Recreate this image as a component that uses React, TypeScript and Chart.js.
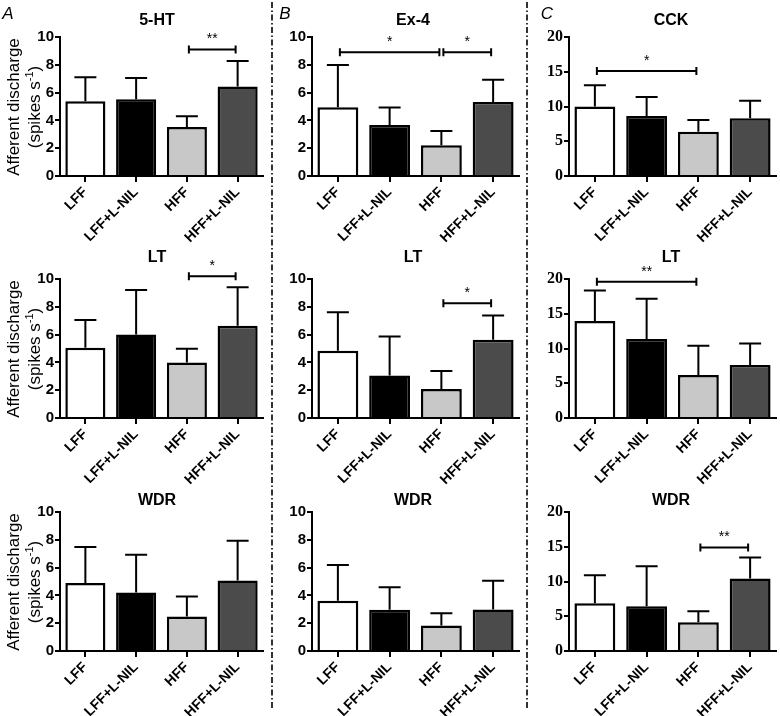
import React, { useEffect, useRef } from 'react';
import { Chart, registerables } from 'chart.js';

Chart.register(...registerables);

// ---------- data ----------
const categories = ['LFF', 'LFF+L-NIL', 'HFF', 'HFF+L-NIL'];

// Column A (5-HT / LT / WDR)
const a5htMean = [5.37, 5.52, 3.53, 6.43];
const a5htSem = [1.73, 1.53, 0.76, 1.84];
const aLtMean = [5.06, 6.0, 4.0, 6.64];
const aLtSem = [1.99, 3.21, 0.99, 2.76];
const aWdrMean = [4.9, 4.21, 2.48, 5.07];
const aWdrSem = [2.58, 2.71, 1.44, 2.86];

// Column B (Ex-4 / LT / WDR)
const bEx4Mean = [4.94, 3.67, 2.21, 5.32];
const bEx4Sem = [3.05, 1.25, 1.03, 1.61];
const bLtMean = [4.83, 3.05, 2.09, 5.63];
const bLtSem = [2.77, 2.82, 1.3, 1.75];
const bWdrMean = [3.61, 2.96, 1.83, 2.98];
const bWdrSem = [2.57, 1.63, 0.89, 2.07];

// Column C (CCK / LT / WDR)
const cCckMean = [10.0, 8.65, 6.38, 8.31];
const cCckSem = [3.04, 2.7, 1.69, 2.51];
const cLtMean = [13.96, 11.35, 6.18, 7.63];
const cLtSem = [4.4, 5.8, 4.21, 3.09];
const cWdrMean = [6.88, 6.44, 4.13, 10.43];
const cWdrSem = [4.03, 5.77, 1.59, 3.03];

// significance brackets: [fromIndex, toIndex, yValue, label]
type Sig = [number, number, number, string];
const a5htSig: Sig[] = [[2, 3, 9.1, '**']];
const aLtSig: Sig[] = [[2, 3, 10.2, '*']];
const aWdrSig: Sig[] = [];
const bEx4Sig: Sig[] = [[0, 2, 8.9, '*'], [2, 3, 8.9, '*']];
const bLtSig: Sig[] = [[2, 3, 8.25, '*']];
const bWdrSig: Sig[] = [];
const cCckSig: Sig[] = [[0, 2, 15.1, '*']];
const cLtSig: Sig[] = [[0, 2, 19.6, '**']];
const cWdrSig: Sig[] = [[2, 3, 14.9, '**']];

const panelTitles = ['5-HT', 'Ex-4', 'CCK', 'LT', 'LT', 'LT', 'WDR', 'WDR', 'WDR'];
const yMaxA = 10;
const yMaxC = 20;

// ---------- styles / layout ----------
const barColors = ['#ffffff', '#000000', '#c8c8c8', '#4b4b4b'];
const colLayout = [
  { axisX: 60, right: 263, titleX: 157, letter: 'A', letterX: 8 },
  { axisX: 312, right: 519, titleX: 413, letter: 'B', letterX: 285 },
  { axisX: 569, right: 776, titleX: 671, letter: 'C', letterX: 547 },
];
const rowLayout = [
  { top: 37, bottom: 176, titleY: 19.5 },
  { top: 279, bottom: 418, titleY: 257 },
  { top: 512, bottom: 651, titleY: 500 },
];

type PanelSpec = { mean: number[]; sem: number[]; sig: Sig[]; max: number; serif: boolean };

const panels: PanelSpec[] = [
  { mean: a5htMean, sem: a5htSem, sig: a5htSig, max: yMaxA, serif: false },
  { mean: bEx4Mean, sem: bEx4Sem, sig: bEx4Sig, max: yMaxA, serif: false },
  { mean: cCckMean, sem: cCckSem, sig: cCckSig, max: yMaxC, serif: true },
  { mean: aLtMean, sem: aLtSem, sig: aLtSig, max: yMaxA, serif: false },
  { mean: bLtMean, sem: bLtSem, sig: bLtSig, max: yMaxA, serif: false },
  { mean: cLtMean, sem: cLtSem, sig: cLtSig, max: yMaxC, serif: true },
  { mean: aWdrMean, sem: aWdrSem, sig: aWdrSig, max: yMaxA, serif: false },
  { mean: bWdrMean, sem: bWdrSem, sig: bWdrSig, max: yMaxA, serif: false },
  { mean: cWdrMean, sem: cWdrSem, sig: cWdrSig, max: yMaxC, serif: true },
];

const SANS = '"Liberation Sans", Arial, sans-serif';
const SERIF = '"Liberation Serif", "Times New Roman", serif';

const PAD_TOP = 40;
const Y_W = 46;
const X_H = 85;
const PAD_R = 4;

function Panel({ spec, col, row }: { spec: PanelSpec; col: number; row: number }) {
  const ref = useRef<HTMLCanvasElement>(null);
  const cl = colLayout[col];
  const rl = rowLayout[row];
  const W = Y_W + (cl.right - cl.axisX) + PAD_R;
  const H = PAD_TOP + (rl.bottom - rl.top) + X_H;

  useEffect(() => {
    if (!ref.current) return;
    const overlay = {
      id: 'overlay',
      afterDatasetsDraw(chart: any) {
        const ctx = chart.ctx;
        const ys = chart.scales.y;
        const meta = chart.getDatasetMeta(0);
        ctx.save();
        ctx.strokeStyle = '#000';
        ctx.lineWidth = 2;
        ctx.lineCap = 'butt';
        // error bars (upper only)
        spec.mean.forEach((m, i) => {
          const x = meta.data[i].x;
          const y0 = ys.getPixelForValue(m);
          const y1 = ys.getPixelForValue(m + spec.sem[i]);
          ctx.beginPath();
          ctx.moveTo(x, y0);
          ctx.lineTo(x, y1);
          ctx.moveTo(x - 11, y1);
          ctx.lineTo(x + 11, y1);
          ctx.stroke();
        });
        // significance brackets
        spec.sig.forEach(([a, b, v, label]) => {
          const xa = meta.data[a].x + 2;
          const xb = meta.data[b].x - 2;
          const y = ys.getPixelForValue(v);
          ctx.beginPath();
          ctx.moveTo(xa, y);
          ctx.lineTo(xb, y);
          ctx.moveTo(xa, y - 4);
          ctx.lineTo(xa, y + 4);
          ctx.moveTo(xb, y - 4);
          ctx.lineTo(xb, y + 4);
          ctx.stroke();
          ctx.fillStyle = '#000';
          ctx.font = `14px ${SANS}`;
          ctx.textAlign = 'center';
          ctx.textBaseline = 'middle';
          ctx.fillText(label, (xa + xb) / 2, y - 10);
        });
        ctx.restore();
      },
    };

    const chart = new Chart(ref.current, {
      type: 'bar',
      data: {
        labels: categories,
        datasets: [
          {
            data: spec.mean,
            backgroundColor: barColors,
            borderColor: '#000',
            borderWidth: 2.5,
            borderSkipped: 'start',
            barPercentage: 0.79,
            categoryPercentage: 1,
          },
        ],
      },
      options: {
        responsive: false,
        animation: false,
        events: [],
        layout: { padding: { top: PAD_TOP, right: PAD_R, left: 0, bottom: 0 } },
        plugins: { legend: { display: false }, tooltip: { enabled: false }, title: { display: false } },
        scales: {
          x: {
            afterFit: (s: any) => {
              s.height = X_H;
            },
            border: { display: true, color: '#000', width: 2 },
            grid: { display: true, drawOnChartArea: false, drawTicks: true, tickLength: 6, color: '#000', lineWidth: 2, offset: false },
            ticks: {
              autoSkip: false,
              maxRotation: 45,
              minRotation: 45,
              padding: 2,
              color: '#000',
              font: { family: SANS, weight: 'bold', size: 14 },
            },
          },
          y: {
            min: 0,
            max: spec.max,
            afterFit: (s: any) => {
              s.width = Y_W;
            },
            border: { display: true, color: '#000', width: 2 },
            grid: { display: true, drawOnChartArea: false, drawTicks: true, tickLength: 5, color: '#000', lineWidth: 2 },
            ticks: {
              stepSize: spec.max / (spec.serif ? 4 : 5),
              padding: 1,
              color: '#000',
              font: spec.serif ? { family: SERIF, weight: 'bold', size: 16 } : { family: SANS, weight: 'bold', size: 15 },
            },
          },
        },
      },
      plugins: [overlay],
    } as any);
    return () => chart.destroy();
  }, []);

  return (
    <canvas
      ref={ref}
      width={W}
      height={H}
      style={{ position: 'absolute', left: cl.axisX - Y_W, top: rl.top - PAD_TOP, width: W, height: H }}
    />
  );
}

function YLabel({ cy }: { cy: number }) {
  return (
    <div
      style={{
        position: 'absolute',
        left: 23.5 - 110,
        top: cy - 21,
        width: 220,
        height: 42,
        transform: 'rotate(-90deg)',
        transformOrigin: '50% 50%',
        fontFamily: SANS,
        fontSize: 17,
        lineHeight: '21px',
        textAlign: 'center',
        color: '#000',
        whiteSpace: 'nowrap',
      }}
    >
      <div>Afferent discharge</div>
      <div>
        (spikes s<sup style={{ fontSize: 11, lineHeight: 0, verticalAlign: 'super' }}>-1</sup>)
      </div>
    </div>
  );
}

export default function App() {
  return (
    <div style={{ position: 'absolute', left: 0, top: 0, width: 780, height: 716, background: '#fff', overflow: 'hidden' }}>
      <svg width={780} height={716} style={{ position: 'absolute', left: 0, top: 0 }}>
        {[272, 527].map((x) => (
          <line key={x} x1={x} y1={2} x2={x} y2={708} stroke="#000" strokeWidth={1.6} strokeDasharray="6 2.5 1.5 2.5" />
        ))}
      </svg>
      {panels.map((p, i) => (
        <Panel key={i} spec={p} col={i % 3} row={Math.floor(i / 3)} />
      ))}
      {panelTitles.map((t, i) => {
        const cl = colLayout[i % 3];
        const rl = rowLayout[Math.floor(i / 3)];
        return (
          <div
            key={'t' + i}
            style={{
              position: 'absolute',
              left: cl.titleX - 60,
              top: rl.titleY - 10,
              width: 120,
              height: 20,
              lineHeight: '20px',
              textAlign: 'center',
              fontFamily: SANS,
              fontWeight: 'bold',
              fontSize: 16,
              color: '#000',
            }}
          >
            {t}
          </div>
        );
      })}
      {colLayout.map((c) => (
        <div
          key={c.letter}
          style={{
            position: 'absolute',
            left: c.letterX - 10,
            top: 4,
            width: 20,
            height: 20,
            lineHeight: '20px',
            textAlign: 'center',
            fontFamily: SANS,
            fontStyle: 'italic',
            fontSize: 17,
            color: '#000',
          }}
        >
          {c.letter}
        </div>
      ))}
      {rowLayout.map((r, i) => (
        <YLabel key={'y' + i} cy={(r.top + r.bottom) / 2} />
      ))}
    </div>
  );
}
